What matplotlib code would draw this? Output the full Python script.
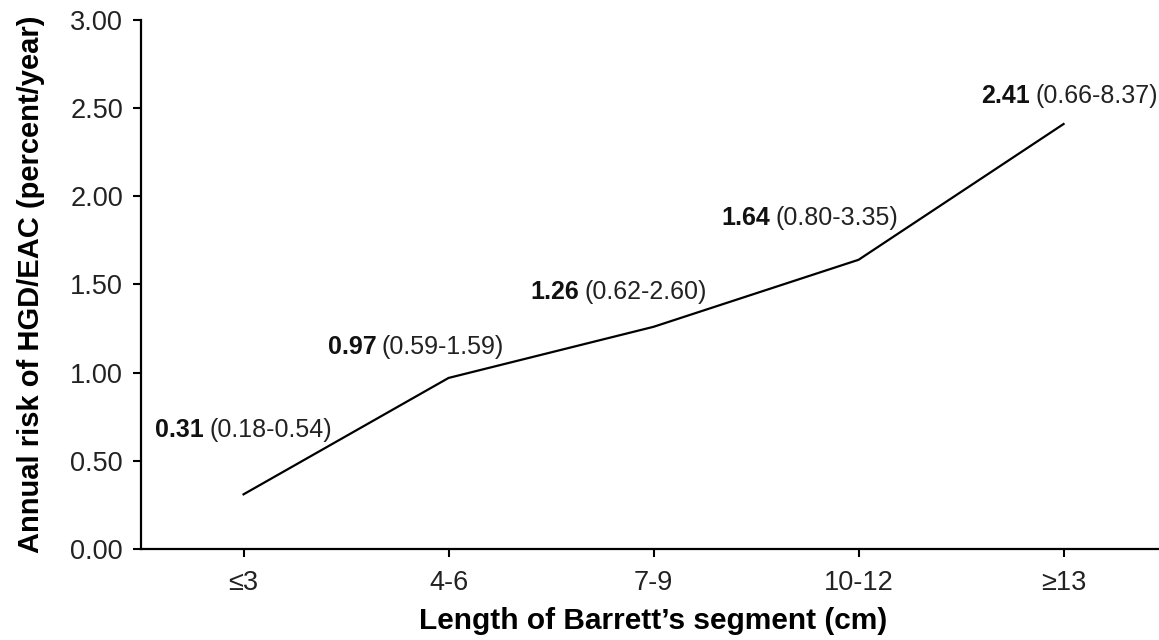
import matplotlib
matplotlib.use("Agg")
import matplotlib.pyplot as plt

plt.rcParams['font.family'] = ['Liberation Sans', 'DejaVu Sans']

# data
categories = ['\u22643', '4-6', '7-9', '10-12', '\u226513']
risk = [0.31, 0.97, 1.26, 1.64, 2.41]
ci_text = ['(0.18-0.54)', '(0.59-1.59)', '(0.62-2.60)', '(0.80-3.35)', '(0.66-8.37)']
# where each label sits (data coords, left edge / vertical centre)
label_x = [-0.43, 0.41, 1.40, 2.33, 3.60]
label_y = [0.675, 1.146, 1.457, 1.877, 2.569]
yticks = [0.0, 0.5, 1.0, 1.5, 2.0, 2.5, 3.0]

fig = plt.figure(figsize=(11.59, 6.40), dpi=100)
ax = fig.add_axes([0.1217, 0.1422, 0.8844, 0.8266])

x = list(range(len(categories)))
ax.plot(x, risk, color='black', lw=1.6, solid_joinstyle='round')

for lx, ly, val, ci in zip(label_x, label_y, risk, ci_text):
	t = ax.text(lx, ly, '%.2f' % val, fontsize=18, fontweight='bold',
		ha='left', va='center', color='#111111')
	ax.annotate(ci, xy=(1, 0.5), xycoords=t, xytext=(4, 0), textcoords='offset points',
		fontsize=18, ha='left', va='center', color='#222222')

ax.set_xlim(-0.5, 4.5)
ax.set_ylim(0, 3.0)
ax.set_xticks(x)
ax.set_xticklabels(categories)
ax.set_yticks(yticks)
ax.set_yticklabels(['%.2f' % v for v in yticks])

for s in ['top', 'right']:
	ax.spines[s].set_visible(False)
for s in ['left', 'bottom']:
	ax.spines[s].set_linewidth(1.6)

ax.tick_params(axis='both', direction='out', length=6, width=1.5, labelsize=19.5,
	labelcolor='#222222')
ax.tick_params(axis='y', pad=7)
ax.tick_params(axis='x', pad=9)

ax.set_xlabel("Length of Barrett\u2019s segment (cm)", fontsize=21.5, fontweight='bold', va='center')
ax.xaxis.set_label_coords(0.5, -0.136)
ax.set_ylabel('Annual risk of HGD/EAC (percent/year)', fontsize=21, fontweight='bold', va='center')
ax.yaxis.set_label_coords(-0.107, 0.5)

plt.savefig('out.png', dpi=100)
